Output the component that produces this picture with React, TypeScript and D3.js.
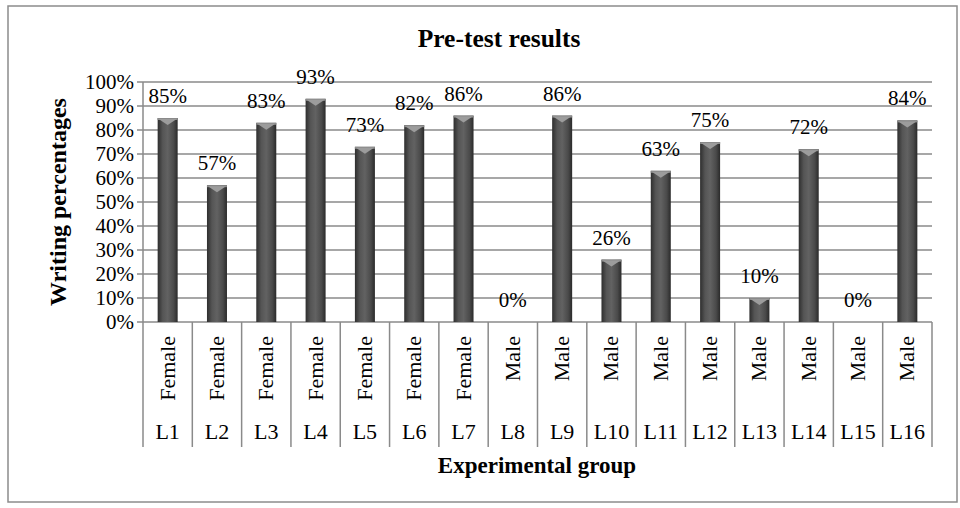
import React from "react";
import * as d3 from "d3";

const categories = ["L1","L2","L3","L4","L5","L6","L7","L8","L9","L10","L11","L12","L13","L14","L15","L16"];
const genders = ["Female","Female","Female","Female","Female","Female","Female","Male","Male","Male","Male","Male","Male","Male","Male","Male"];
const values = [85,57,83,93,73,82,86,0,86,26,63,75,10,72,0,84];
const yTicks = [0,10,20,30,40,50,60,70,80,90,100];

const W = 960, H = 508;
const FONT = "'Liberation Serif', 'Times New Roman', serif";

export default function App() {
  const x = d3.scaleBand<string>().domain(categories).range([143, 932]).paddingInner(0).paddingOuter(0);
  const y = d3.scaleLinear().domain([0, 100]).range([322, 82]);
  const bw = 20;
  const grid = "#8a8a8a";

  return (
    <svg width={W} height={H} style={{ position: "absolute", left: 0, top: 0 }} fontFamily={FONT}>
      <defs>
        <linearGradient id="barG" x1="0" x2="1" y1="0" y2="0">
          <stop offset="0" stopColor="#2e2e2e" />
          <stop offset="0.25" stopColor="#555" />
          <stop offset="0.5" stopColor="#626262" />
          <stop offset="0.8" stopColor="#4a4a4a" />
          <stop offset="1" stopColor="#2a2a2a" />
        </linearGradient>
      </defs>
      <rect x={0} y={0} width={W} height={H} fill="#fff" />
      <rect x={8} y={6} width={949} height={496} fill="#fff" stroke="#8c8c8c" strokeWidth={1.5} />

      <text x={499} y={47} textAnchor="middle" fontSize={25.5} fontWeight="bold">Pre-test results</text>

      {yTicks.map((t) => (
        <g key={t}>
          <line x1={137} x2={932} y1={y(t)} y2={y(t)} stroke={grid} strokeWidth={1.5} />
          <text x={134} y={y(t) + 7} textAnchor="end" fontSize={21}>{t}%</text>
        </g>
      ))}
      <line x1={143} x2={143} y1={82} y2={322} stroke={grid} strokeWidth={1.5} />

      {categories.map((c) => {
        const x0 = x(c)!;
        return (
          <line key={"s" + c} x1={x0} x2={x0} y1={322} y2={447} stroke={grid} strokeWidth={1.5} />
        );
      })}
      <line x1={932} x2={932} y1={322} y2={447} stroke={grid} strokeWidth={1.5} />

      {categories.map((c, i) => {
        const cx = x(c)! + x.bandwidth() / 2;
        const v = values[i];
        const top = y(v);
        const bx = cx - bw / 2;
        return (
          <g key={c}>
            {v > 0 && (
              <>
                <rect x={bx} y={top} width={bw} height={y(0) - top} fill="url(#barG)" />
                <rect x={bx} y={top} width={bw} height={2} fill="#8a8a8a" />
                <polygon points={`${bx + 1},${top + 1} ${bx + bw - 1},${top + 1} ${cx},${top + 7}`} fill="#9c9c9c" />
              </>
            )}
            <text x={cx} y={top - 15} textAnchor="middle" fontSize={21}>{v}%</text>
            <text transform={`translate(${cx + 7},336) rotate(-90)`} textAnchor="end" fontSize={22}>{genders[i]}</text>
            <text x={cx} y={439} textAnchor="middle" fontSize={22}>{c}</text>
          </g>
        );
      })}

      <text x={537} y={473} textAnchor="middle" fontSize={23} fontWeight="bold">Experimental group</text>
      <text transform={`translate(66,202) rotate(-90)`} textAnchor="middle" fontSize={24} fontWeight="bold">Writing percentages</text>
    </svg>
  );
}
